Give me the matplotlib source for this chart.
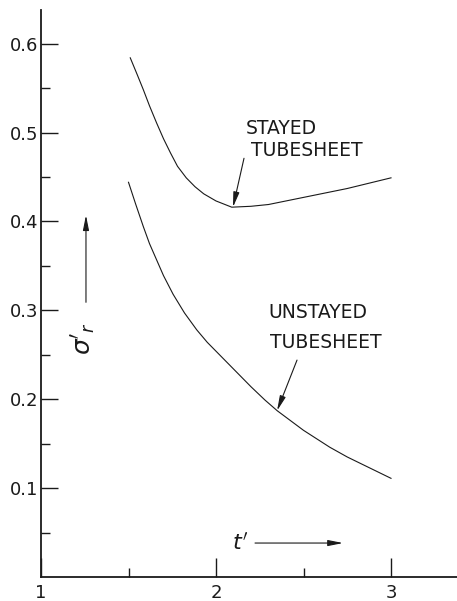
import numpy as np
import matplotlib
matplotlib.use("Agg")
import matplotlib.pyplot as plt
from matplotlib.ticker import FixedLocator

# values
stayed_t = [1.51, 1.55, 1.585, 1.62, 1.66, 1.70, 1.74, 1.78, 1.83, 1.88, 1.93,
            2.0, 2.09, 2.2, 2.3, 2.4, 2.5, 2.75, 3.0]
stayed_s = [0.584, 0.565, 0.548, 0.530, 0.511, 0.493, 0.477, 0.462, 0.449, 0.439, 0.431,
            0.423, 0.416, 0.417, 0.419, 0.423, 0.427, 0.437, 0.449]

unstayed_t = [1.50, 1.54, 1.585, 1.62, 1.66, 1.70, 1.755, 1.82, 1.89, 1.95, 2.0,
              2.1, 2.2, 2.28, 2.35, 2.5, 2.65, 2.75, 2.875, 3.0]
unstayed_s = [0.444, 0.420, 0.394, 0.375, 0.357, 0.339, 0.318, 0.297, 0.278, 0.264, 0.254,
              0.234, 0.214, 0.199, 0.187, 0.165, 0.146, 0.135, 0.123, 0.111]

x_ticks = [1, 2, 3]
x_ticklabels = ["1", "2", "3"]
y_ticks = [0.1, 0.2, 0.3, 0.4, 0.5, 0.6]
y_ticklabels = ["0.1", "0.2", "0.3", "0.4", "0.5", "0.6"]

ink = "#1a1a1a"

fig = plt.figure(figsize=(4.57, 6.01), dpi=100)
ax = fig.add_axes([41 / 457, 24 / 601, 416 / 457, 567 / 601])

ax.plot(stayed_t, stayed_s, color=ink, lw=0.8)
ax.plot(unstayed_t, unstayed_s, color=ink, lw=0.8)

ax.set_xlim(1, 1 + 416 / 175)
ax.set_ylim(0, 567 / 889)

for s in ["top", "right"]:
    ax.spines[s].set_visible(False)
for s in ["left", "bottom"]:
    ax.spines[s].set_linewidth(1.3)
    ax.spines[s].set_color(ink)

ax.xaxis.set_major_locator(FixedLocator(x_ticks))
ax.set_xticklabels(x_ticklabels)
ax.xaxis.set_minor_locator(FixedLocator([1.5, 2.5]))
ax.yaxis.set_major_locator(FixedLocator(y_ticks))
ax.set_yticklabels(y_ticklabels)
ax.yaxis.set_minor_locator(FixedLocator([0.05, 0.15, 0.25, 0.35, 0.45, 0.55]))

ax.tick_params(axis="x", which="major", direction="in", length=13.5, width=1.0,
               pad=5, labelsize=13, colors=ink)
ax.tick_params(axis="x", which="minor", direction="in", length=6.5, width=1.0, colors=ink)
ax.tick_params(axis="y", which="major", direction="in", length=12, width=1.0,
               pad=2, labelsize=13, colors=ink)
ax.tick_params(axis="y", which="minor", direction="in", length=6.5, width=1.0, colors=ink)

txt = dict(fontsize=13.5, color=ink, va="center", ha="left")
ax.text(2.171, 0.504, "STAYED", **txt)
ax.text(2.2, 0.480, "TUBESHEET", **txt)
ax.text(2.297, 0.298, "UNSTAYED", **txt)
ax.text(2.309, 0.264, "TUBESHEET", **txt)

arw = dict(arrowstyle="-|>,head_length=0.9,head_width=0.18", color=ink, lw=0.8,
           shrinkA=0, shrinkB=0)
ax.annotate("", xy=(2.097, 0.416), xytext=(2.16, 0.471), arrowprops=arw)
ax.annotate("", xy=(2.349, 0.187), xytext=(2.463, 0.244), arrowprops=arw)
ax.annotate("", xy=(1.257, 0.407), xytext=(1.257, 0.309), arrowprops=arw)
ax.annotate("", xy=(2.726, 0.0382), xytext=(2.223, 0.0382), arrowprops=arw)

ax.text(1.246, 0.268, r"$\sigma'_r$", fontsize=18, color=ink, rotation=90,
        ha="center", va="center")
ax.text(2.14, 0.038, r"$t'$", fontsize=16, color=ink, ha="center", va="center")

fig.savefig("out.png", dpi=100)
